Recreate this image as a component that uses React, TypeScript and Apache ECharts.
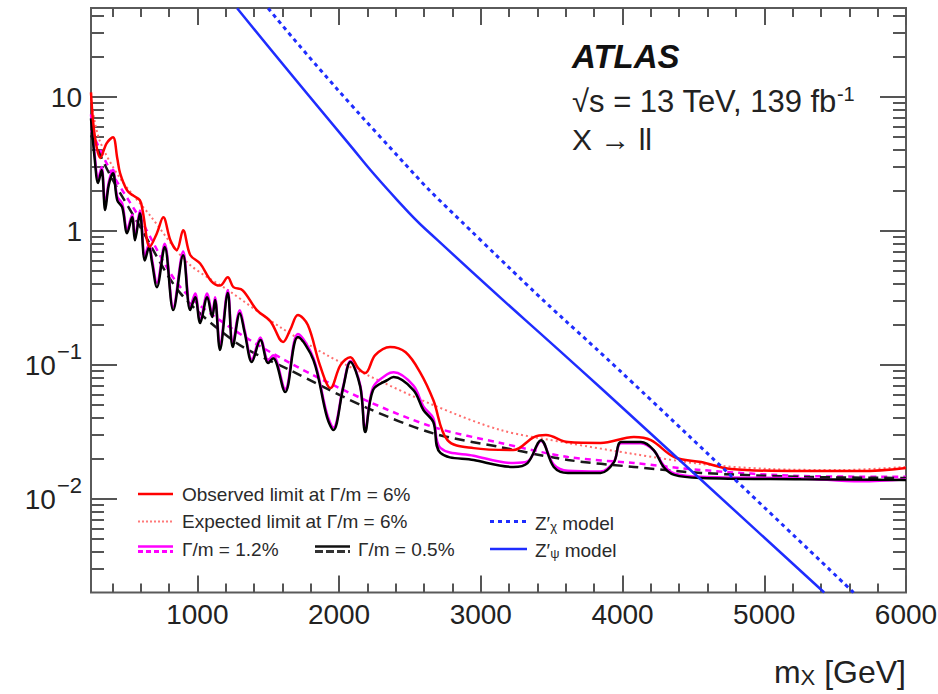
import { useEffect, useRef } from "react";
import * as echarts from "echarts";

const FONT = "'Liberation Sans', Arial, Helvetica, sans-serif";

// Upper limits on sigma x B (fb) versus m_X (GeV)
const observed6: [number, number][] = [
  [250, 10.8], [265, 6.5], [290, 4.2], [315, 3.5], [360, 4.5], [405, 5.0], [435, 3.5], [455, 2.7],
  [505, 2.0], [545, 1.84], [595, 1.69], [615, 1.4], [665, 0.76], [715, 0.96], [760, 1.26], [810, 0.85],
  [855, 0.72], [900, 1.01], [950, 0.66], [1020, 0.57], [1100, 0.42], [1160, 0.39], [1215, 0.45],
  [1255, 0.38], [1320, 0.36], [1420, 0.256], [1515, 0.212], [1605, 0.148], [1655, 0.182], [1710, 0.235],
  [1780, 0.198], [1865, 0.0995], [1940, 0.0671], [2010, 0.0995], [2080, 0.114], [2135, 0.0946],
  [2185, 0.0868], [2255, 0.118], [2360, 0.136], [2470, 0.124], [2575, 0.0868], [2665, 0.0546],
  [2765, 0.0274], [2950, 0.0239], [3230, 0.0231], [3375, 0.0289], [3460, 0.0299], [3615, 0.0265],
  [3845, 0.0261], [4080, 0.0289], [4200, 0.0274], [4365, 0.0205], [4555, 0.0188], [4765, 0.0167],
  [5260, 0.0161], [5685, 0.0161], [6000, 0.017],
];

const expected6: [number, number][] = [
  [250, 9.4], [310, 4.75], [455, 2.47], [665, 1.31], [930, 0.58], [1230, 0.353], [1585, 0.191],
  [1915, 0.118], [2200, 0.0838], [2665, 0.0501], [3140, 0.0326], [3615, 0.0261], [4080, 0.0216],
  [4555, 0.0182], [5030, 0.0167], [5545, 0.0164], [6000, 0.0173],
];

const observed1p2: [number, number][] = [
  [250, 7.4], [275, 3.8], [300, 2.45], [325, 3.0], [350, 1.55], [375, 2.3], [405, 2.85], [435, 1.8],
  [470, 1.6], [505, 1.02], [540, 1.32], [560, 0.9], [595, 1.42], [630, 0.65], [660, 0.8], [680, 0.62],
  [715, 0.41], [770, 0.8], [830, 0.27], [900, 0.7], [950, 0.27], [985, 0.34], [1020, 0.215],
  [1070, 0.34], [1105, 0.24], [1125, 0.32], [1160, 0.14], [1215, 0.36], [1250, 0.145], [1300, 0.255],
  [1335, 0.18], [1385, 0.11], [1445, 0.16], [1500, 0.108], [1535, 0.118], [1620, 0.066], [1710, 0.17],
  [1820, 0.112], [1915, 0.043], [1960, 0.034], [2030, 0.07], [2080, 0.107], [2150, 0.07],
  [2185, 0.033], [2240, 0.068], [2340, 0.085], [2385, 0.088], [2525, 0.07], [2595, 0.049],
  [2665, 0.04], [2715, 0.024], [2950, 0.021], [3230, 0.0185], [3330, 0.019], [3425, 0.027],
  [3515, 0.018], [3615, 0.0162], [3845, 0.016], [3940, 0.019], [3990, 0.026], [4130, 0.026],
  [4220, 0.023], [4290, 0.0178], [4365, 0.0155], [4555, 0.0146], [5260, 0.0142], [5680, 0.0135],
  [6000, 0.014],
];

const expected1p2: [number, number][] = [
  [250, 5.64], [385, 2.84], [595, 1.24], [880, 0.38], [1230, 0.191], [1655, 0.103], [2185, 0.0546],
  [2665, 0.0343], [3140, 0.0261], [3615, 0.0205], [4080, 0.0185], [4555, 0.0164], [5260, 0.0148],
  [6000, 0.0146],
];

const observed0p5: [number, number][] = [
  [250, 6.9], [275, 3.54], [300, 2.27], [325, 2.84], [350, 1.43], [375, 2.19], [405, 2.69], [435, 1.69],
  [470, 1.5], [505, 0.96], [540, 1.26], [560, 0.85], [595, 1.35], [630, 0.6], [660, 0.756], [680, 0.584],
  [715, 0.38], [770, 0.756], [830, 0.256], [900, 0.658], [950, 0.256], [985, 0.32], [1020, 0.205],
  [1070, 0.32], [1105, 0.227], [1125, 0.304], [1160, 0.129], [1215, 0.343], [1250, 0.136],
  [1300, 0.243], [1335, 0.172], [1385, 0.105], [1445, 0.153], [1500, 0.103], [1535, 0.112],
  [1620, 0.0626], [1710, 0.161], [1820, 0.108], [1915, 0.0407], [1960, 0.0326], [2030, 0.0682],
  [2080, 0.105], [2150, 0.0682], [2185, 0.0315], [2240, 0.0648], [2340, 0.0769], [2385, 0.081],
  [2525, 0.0648], [2595, 0.046], [2665, 0.0374], [2715, 0.022], [2950, 0.0195], [3230, 0.0173],
  [3330, 0.0185], [3425, 0.0274], [3515, 0.0173], [3615, 0.0156], [3845, 0.0156], [3940, 0.0188],
  [3990, 0.0265], [4130, 0.0265], [4220, 0.0231], [4290, 0.0173], [4365, 0.0151], [4555, 0.0143],
  [5260, 0.014], [6000, 0.0138],
];

const expected0p5: [number, number][] = [
  [250, 5.17], [385, 2.6], [595, 1.08], [880, 0.343], [1280, 0.145], [1655, 0.0913], [2200, 0.0476],
  [2665, 0.0308], [3140, 0.0243], [3615, 0.0195], [4080, 0.0173], [4555, 0.0156], [5260, 0.0146],
  [6000, 0.0143],
];

// Theory predictions
const zPsiModel: [number, number][] = [
  [1281, 45.8], [2030, 5.0], [2412, 1.69], [2695, 0.852], [3847, 0.0671], [4533, 0.01455], [5423, 0.002],
];
const zChiModel: [number, number][] = [
  [1500, 45.8], [2292, 5.0], [2999, 0.852], [4201, 0.0546], [5630, 0.002],
];

const xMajorTicks = [1000, 2000, 3000, 4000, 5000, 6000];
const xMinorTicks = [
  400, 600, 800, 1200, 1400, 1600, 1800, 2200, 2400, 2600, 2800, 3200, 3400, 3600, 3800,
  4200, 4400, 4600, 4800, 5200, 5400, 5600, 5800,
];
const yMajorTicks = [0.01, 0.1, 1, 10];
const yMinorTicks = [
  0.003, 0.004, 0.005, 0.006, 0.007, 0.008, 0.009,
  0.02, 0.03, 0.04, 0.05, 0.06, 0.07, 0.08, 0.09,
  0.2, 0.3, 0.4, 0.5, 0.6, 0.7, 0.8, 0.9,
  2, 3, 4, 5, 6, 7, 8, 9,
  20, 30, 40,
];

const X_MIN = 250;
const X_MAX = 6000;
const Y_MIN = 0.002;
const Y_MAX = 46;

const TICK = { color: "#555", width: 2 };
const LABEL_COLOR = "#222";

function yLabel(v: number): string {
  const e = Math.round(Math.log10(v));
  if (e === 1) return "{b|10}";
  if (e === 0) return "{b|1}";
  return `{b|10}{sup|\u2212${-e}}`;
}

function xAxisDef(position: "top" | "bottom", ticks: number[], len: number, labels: boolean) {
  return {
    type: "value",
    min: X_MIN,
    max: X_MAX,
    position,
    axisLine: { show: false },
    splitLine: { show: false },
    axisTick: { show: true, inside: true, length: len, customValues: ticks, lineStyle: TICK },
    axisLabel: labels
      ? {
          show: true,
          customValues: xMajorTicks,
          formatter: (v: number) => String(v),
          fontSize: 28,
          fontFamily: FONT,
          color: LABEL_COLOR,
          margin: 8,
        }
      : { show: false },
  };
}

function yAxisDef(position: "left" | "right", ticks: number[], len: number, labels: boolean) {
  return {
    type: "log",
    logBase: 10,
    min: Y_MIN,
    max: Y_MAX,
    position,
    axisLine: { show: false },
    splitLine: { show: false },
    axisTick: { show: true, inside: true, length: len, customValues: ticks, lineStyle: TICK },
    axisLabel: labels
      ? {
          show: true,
          customValues: yMajorTicks,
          formatter: yLabel,
          margin: 9,
          rich: {
            b: { fontSize: 28, fontFamily: FONT, color: LABEL_COLOR, verticalAlign: "bottom", lineHeight: 30 },
            sup: {
              fontSize: 22,
              fontFamily: FONT,
              color: LABEL_COLOR,
              verticalAlign: "bottom",
              lineHeight: 22,
              padding: [0, 0, 17, 1],
            },
          },
        }
      : { show: false },
  };
}

function curve(name: string, data: [number, number][], color: string, width: number, type: any, z: number, smooth = 0.35) {
  return {
    type: "line",
    name,
    data,
    xAxisIndex: 0,
    yAxisIndex: 0,
    showSymbol: false,
    symbol: "none",
    smooth,
    clip: true,
    silent: true,
    z,
    lineStyle: { color, width, type, cap: "butt" },
  };
}

function txt(x: number, y: number, text: string, size: number, extra: any = {}, rich?: any) {
  return {
    type: "text",
    x,
    y,
    silent: true,
    style: {
      text,
      fontSize: size,
      fontFamily: FONT,
      fill: LABEL_COLOR,
      align: "left",
      verticalAlign: "middle",
      textAlign: "left",
      textVerticalAlign: "middle",
      rich,
      ...extra,
    },
  };
}

function seg(x1: number, x2: number, y: number, stroke: string, lineWidth: number, lineDash?: number[]) {
  return {
    type: "line",
    silent: true,
    shape: { x1, y1: y, x2, y2: y },
    style: { stroke, lineWidth, lineDash },
  };
}

const LEG = 19;
const legendRich = {
  t: { fontSize: LEG, fontFamily: FONT, fill: "#2a2a2a", color: "#2a2a2a", verticalAlign: "bottom", lineHeight: 22 },
  s: { fontSize: 13, fontFamily: FONT, fill: "#2a2a2a", color: "#2a2a2a", verticalAlign: "bottom", lineHeight: 13 },
};

const option = {
  animation: false,
  backgroundColor: "#ffffff",
  grid: {
    left: 91,
    top: 8,
    width: 815,
    height: 584.5,
    show: true,
    borderColor: "#5a5a5a",
    borderWidth: 2,
    backgroundColor: "#ffffff",
    containLabel: false,
    outerBoundsMode: "none",
  },
  xAxis: [
    xAxisDef("bottom", xMajorTicks, 17, true),
    xAxisDef("bottom", xMinorTicks, 9, false),
    xAxisDef("top", xMajorTicks, 17, false),
    xAxisDef("top", xMinorTicks, 9, false),
  ],
  yAxis: [
    yAxisDef("left", yMajorTicks, 26, true),
    yAxisDef("left", yMinorTicks, 13, false),
    yAxisDef("right", yMajorTicks, 26, false),
    yAxisDef("right", yMinorTicks, 13, false),
  ],
  series: [
    curve("Expected limit at \u0393/m = 6%", expected6, "#ff6e6e", 2, [2, 3], 2, 0.3),
    curve("\u0393/m = 1.2% expected", expected1p2, "#ff00ff", 2.5, [6, 5], 3, 0.3),
    curve("\u0393/m = 0.5% expected", expected0p5, "#1a1a1a", 2.5, [10, 6], 3, 0.3),
    curve("\u0393/m = 1.2%", observed1p2, "#ff00ff", 2.5, "solid", 4),
    curve("\u0393/m = 0.5%", observed0p5, "#000000", 2.5, "solid", 5),
    curve("Observed limit at \u0393/m = 6%", observed6, "#ff0000", 2.5, "solid", 6),
    curve("Z'\u03c7 model", zChiModel, "#1f2dff", 3, [4, 4], 7, 0.6),
    curve("Z'\u03c8 model", zPsiModel, "#1f2dff", 2.5, "solid", 7, 0.6),
  ],
  graphic: [
    // Experiment label
    txt(572, 56, "ATLAS", 33, { fontWeight: "bold", fontStyle: "italic", fill: "#111" }),
    txt(572, 101, "\u221as = 13 TeV, 139 fb{sup|-1}", 31, {}, {
      sup: { fontSize: 20, fontFamily: FONT, fill: LABEL_COLOR, color: LABEL_COLOR, verticalAlign: "bottom", lineHeight: 20, padding: [0, 0, 13, 0] },
    }),
    txt(572, 139, "X \u2192 ll", 30),
    // Axis title
    {
      type: "text",
      x: 906,
      y: 672,
      silent: true,
      style: {
        text: "{b|m}{s|X}{b| [GeV]}",
        align: "right",
        verticalAlign: "middle",
        textAlign: "right",
        textVerticalAlign: "middle",
        rich: {
          b: { fontSize: 32, fontFamily: FONT, fill: LABEL_COLOR, color: LABEL_COLOR, verticalAlign: "bottom", lineHeight: 32 },
          s: { fontSize: 22, fontFamily: FONT, fill: LABEL_COLOR, color: LABEL_COLOR, verticalAlign: "bottom", lineHeight: 22 },
        },
      },
    },
    // Legend
    seg(138, 173, 494, "#ff0000", 2.5),
    txt(182, 494, "Observed limit at \u0393/m = 6%", LEG, { fill: "#2a2a2a" }),
    seg(138, 173, 521.5, "#ff7a7a", 2, [2, 2]),
    txt(182, 521.5, "Expected limit at \u0393/m = 6%", LEG, { fill: "#2a2a2a" }),
    seg(138, 173, 546.5, "#ff00ff", 2.5),
    seg(138, 173, 551.5, "#ff00ff", 3, [5, 3]),
    txt(182, 549, "\u0393/m = 1.2%", LEG, { fill: "#2a2a2a" }),
    seg(315, 350, 546.5, "#111111", 2.5),
    seg(315, 350, 551.5, "#333333", 3, [8, 3]),
    txt(358, 549, "\u0393/m = 0.5%", LEG, { fill: "#2a2a2a" }),
    seg(490, 527, 521.5, "#1f2dff", 3, [4, 4]),
    txt(535, 521.5, "{t|Z\u2032}{s|\u03c7}{t| model}", LEG, {}, legendRich),
    seg(490, 527, 549, "#1f2dff", 2.5),
    txt(535, 549, "{t|Z\u2032}{s|\u03c8}{t| model}", LEG, {}, legendRich),
  ],
};

export default function App() {
  const ref = useRef<HTMLDivElement>(null);
  useEffect(() => {
    document.body.style.margin = "0";
    if (!ref.current) return;
    const chart = echarts.init(ref.current, null, { renderer: "svg" });
    chart.setOption(option as any);
    return () => chart.dispose();
  }, []);
  return (
    <div
      ref={ref}
      style={{ position: "fixed", left: 0, top: 0, width: 938, height: 694, background: "#ffffff" }}
    />
  );
}
